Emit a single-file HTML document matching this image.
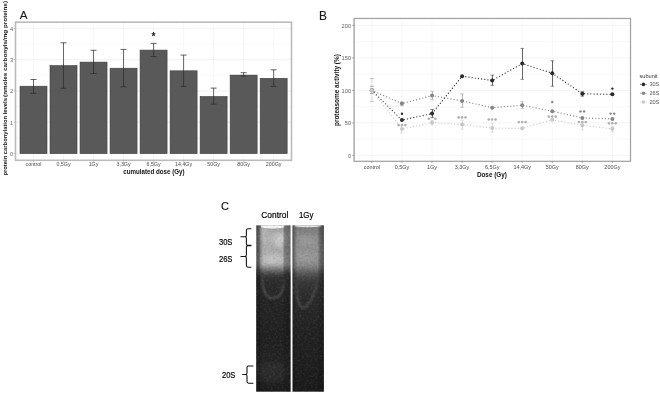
<!DOCTYPE html>
<html><head><meta charset="utf-8"><style>
html,body{margin:0;padding:0;background:#fff;}
body{width:660px;height:394px;overflow:hidden;}
svg{display:block;filter:grayscale(1) blur(0.3px);}
text{font-family:"Liberation Sans", sans-serif;}
</style></head><body>
<svg width="660" height="394" viewBox="0 0 660 394">
<defs>
<filter id="soft" x="-5%" y="-5%" width="110%" height="110%"><feGaussianBlur stdDeviation="0.35"/></filter>
</defs>
<rect width="660" height="394" fill="#fff"/>

<line x1="15.5" x2="291.5" y1="137.94" y2="137.94" stroke="#f3f3f3" stroke-width="0.5"/>
<line x1="15.5" x2="291.5" y1="106.60" y2="106.60" stroke="#f3f3f3" stroke-width="0.5"/>
<line x1="15.5" x2="291.5" y1="75.28" y2="75.28" stroke="#f3f3f3" stroke-width="0.5"/>
<line x1="15.5" x2="291.5" y1="43.94" y2="43.94" stroke="#f3f3f3" stroke-width="0.5"/>
<line x1="15.5" x2="291.5" y1="153.60" y2="153.60" stroke="#e9e9e9" stroke-width="0.6"/>
<line x1="15.5" x2="291.5" y1="122.27" y2="122.27" stroke="#e9e9e9" stroke-width="0.6"/>
<line x1="15.5" x2="291.5" y1="90.94" y2="90.94" stroke="#e9e9e9" stroke-width="0.6"/>
<line x1="15.5" x2="291.5" y1="59.61" y2="59.61" stroke="#e9e9e9" stroke-width="0.6"/>
<line x1="15.5" x2="291.5" y1="28.28" y2="28.28" stroke="#e9e9e9" stroke-width="0.6"/>
<line x1="33.50" x2="33.50" y1="22.2" y2="160.3" stroke="#efefef" stroke-width="0.5"/>
<line x1="63.52" x2="63.52" y1="22.2" y2="160.3" stroke="#efefef" stroke-width="0.5"/>
<line x1="93.54" x2="93.54" y1="22.2" y2="160.3" stroke="#efefef" stroke-width="0.5"/>
<line x1="123.56" x2="123.56" y1="22.2" y2="160.3" stroke="#efefef" stroke-width="0.5"/>
<line x1="153.58" x2="153.58" y1="22.2" y2="160.3" stroke="#efefef" stroke-width="0.5"/>
<line x1="183.60" x2="183.60" y1="22.2" y2="160.3" stroke="#efefef" stroke-width="0.5"/>
<line x1="213.62" x2="213.62" y1="22.2" y2="160.3" stroke="#efefef" stroke-width="0.5"/>
<line x1="243.64" x2="243.64" y1="22.2" y2="160.3" stroke="#efefef" stroke-width="0.5"/>
<line x1="273.66" x2="273.66" y1="22.2" y2="160.3" stroke="#efefef" stroke-width="0.5"/>
<rect x="20.00" y="86.2" width="27.0" height="67.40" fill="#595959" stroke="#3e3e3e" stroke-width="0.6"/>
<rect x="50.02" y="65.6" width="27.0" height="88.00" fill="#595959" stroke="#3e3e3e" stroke-width="0.6"/>
<rect x="80.04" y="62.1" width="27.0" height="91.50" fill="#595959" stroke="#3e3e3e" stroke-width="0.6"/>
<rect x="110.06" y="68.2" width="27.0" height="85.40" fill="#595959" stroke="#3e3e3e" stroke-width="0.6"/>
<rect x="140.08" y="50.1" width="27.0" height="103.50" fill="#595959" stroke="#3e3e3e" stroke-width="0.6"/>
<rect x="170.10" y="70.8" width="27.0" height="82.80" fill="#595959" stroke="#3e3e3e" stroke-width="0.6"/>
<rect x="200.12" y="96.5" width="27.0" height="57.10" fill="#595959" stroke="#3e3e3e" stroke-width="0.6"/>
<rect x="230.14" y="75.1" width="27.0" height="78.50" fill="#595959" stroke="#3e3e3e" stroke-width="0.6"/>
<rect x="260.16" y="78.3" width="27.0" height="75.30" fill="#595959" stroke="#3e3e3e" stroke-width="0.6"/>
<path d="M30.50 79.5H36.50M33.50 79.5V93.3M30.50 93.3H36.50" stroke="#2b2b2b" stroke-width="0.72" fill="none"/>
<path d="M60.52 42.8H66.52M63.52 42.8V88.3M60.52 88.3H66.52" stroke="#2b2b2b" stroke-width="0.72" fill="none"/>
<path d="M90.54 50.3H96.54M93.54 50.3V73.5M90.54 73.5H96.54" stroke="#2b2b2b" stroke-width="0.72" fill="none"/>
<path d="M120.56 49.4H126.56M123.56 49.4V86.8M120.56 86.8H126.56" stroke="#2b2b2b" stroke-width="0.72" fill="none"/>
<path d="M150.58 43.4H156.58M153.58 43.4V56.6M150.58 56.6H156.58" stroke="#2b2b2b" stroke-width="0.72" fill="none"/>
<path d="M180.60 55.1H186.60M183.60 55.1V86.4M180.60 86.4H186.60" stroke="#2b2b2b" stroke-width="0.72" fill="none"/>
<path d="M210.62 88.1H216.62M213.62 88.1V104.1M210.62 104.1H216.62" stroke="#2b2b2b" stroke-width="0.72" fill="none"/>
<path d="M240.64 72.7H246.64M243.64 72.7V76.0M240.64 76.0H246.64" stroke="#2b2b2b" stroke-width="0.72" fill="none"/>
<path d="M270.66 69.8H276.66M273.66 69.8V86.4M270.66 86.4H276.66" stroke="#2b2b2b" stroke-width="0.72" fill="none"/>
<text x="153.58" y="40.0" font-size="10.2" font-weight="bold" text-anchor="middle" fill="#1a1a1a">*</text>
<rect x="15.5" y="22.2" width="276.0" height="138.10000000000002" fill="none" stroke="#bbbbbb" stroke-width="1.6"/>
<line x1="13.7" x2="15.5" y1="153.60" y2="153.60" stroke="#b0b0b0" stroke-width="0.7"/>
<text x="13.1" y="156.10" font-size="5.7" text-anchor="end" fill="#666">0</text>
<line x1="13.7" x2="15.5" y1="122.27" y2="122.27" stroke="#b0b0b0" stroke-width="0.7"/>
<text x="13.1" y="124.77" font-size="5.7" text-anchor="end" fill="#666">1</text>
<line x1="13.7" x2="15.5" y1="90.94" y2="90.94" stroke="#b0b0b0" stroke-width="0.7"/>
<text x="13.1" y="93.44" font-size="5.7" text-anchor="end" fill="#666">2</text>
<line x1="13.7" x2="15.5" y1="59.61" y2="59.61" stroke="#b0b0b0" stroke-width="0.7"/>
<text x="13.1" y="62.11" font-size="5.7" text-anchor="end" fill="#666">3</text>
<line x1="13.7" x2="15.5" y1="28.28" y2="28.28" stroke="#b0b0b0" stroke-width="0.7"/>
<text x="13.1" y="30.78" font-size="5.7" text-anchor="end" fill="#666">4</text>
<line x1="33.50" x2="33.50" y1="160.3" y2="161.9" stroke="#b0b0b0" stroke-width="0.7"/>
<text x="33.50" y="166.0" font-size="5.3" text-anchor="middle" fill="#4a4a4a">control</text>
<line x1="63.52" x2="63.52" y1="160.3" y2="161.9" stroke="#b0b0b0" stroke-width="0.7"/>
<text x="63.52" y="166.0" font-size="5.3" text-anchor="middle" fill="#4a4a4a">0,5Gy</text>
<line x1="93.54" x2="93.54" y1="160.3" y2="161.9" stroke="#b0b0b0" stroke-width="0.7"/>
<text x="93.54" y="166.0" font-size="5.3" text-anchor="middle" fill="#4a4a4a">1Gy</text>
<line x1="123.56" x2="123.56" y1="160.3" y2="161.9" stroke="#b0b0b0" stroke-width="0.7"/>
<text x="123.56" y="166.0" font-size="5.3" text-anchor="middle" fill="#4a4a4a">3,3Gy</text>
<line x1="153.58" x2="153.58" y1="160.3" y2="161.9" stroke="#b0b0b0" stroke-width="0.7"/>
<text x="153.58" y="166.0" font-size="5.3" text-anchor="middle" fill="#4a4a4a">6,5Gy</text>
<line x1="183.60" x2="183.60" y1="160.3" y2="161.9" stroke="#b0b0b0" stroke-width="0.7"/>
<text x="183.60" y="166.0" font-size="5.3" text-anchor="middle" fill="#4a4a4a">14,4Gy</text>
<line x1="213.62" x2="213.62" y1="160.3" y2="161.9" stroke="#b0b0b0" stroke-width="0.7"/>
<text x="213.62" y="166.0" font-size="5.3" text-anchor="middle" fill="#4a4a4a">50Gy</text>
<line x1="243.64" x2="243.64" y1="160.3" y2="161.9" stroke="#b0b0b0" stroke-width="0.7"/>
<text x="243.64" y="166.0" font-size="5.3" text-anchor="middle" fill="#4a4a4a">80Gy</text>
<line x1="273.66" x2="273.66" y1="160.3" y2="161.9" stroke="#b0b0b0" stroke-width="0.7"/>
<text x="273.66" y="166.0" font-size="5.3" text-anchor="middle" fill="#4a4a4a">200Gy</text>
<text x="153.9" y="174.1" font-size="6.35" font-weight="bold" text-anchor="middle" fill="#111" textLength="61.4" lengthAdjust="spacingAndGlyphs">cumulated dose (Gy)</text>
<text transform="translate(6.6 175.6) rotate(-90)" x="0" y="0" font-size="6.2" font-weight="bold" fill="#111" textLength="77.6" lengthAdjust="spacingAndGlyphs">protein carbonylation levels</text>
<text transform="translate(6.6 96.9) rotate(-90)" x="0" y="0" font-size="6.2" font-weight="bold" fill="#111" textLength="95.9" lengthAdjust="spacingAndGlyphs">(nmoles carbonyls/mg proteins)</text>
<text x="19.7" y="19.4" font-size="11.7" fill="#1a1a1a" stroke="#1a1a1a" stroke-width="0.12">A</text>
<line x1="354.2" x2="630.5" y1="139.15" y2="139.15" stroke="#f3f3f3" stroke-width="0.5"/>
<line x1="354.2" x2="630.5" y1="106.65" y2="106.65" stroke="#f3f3f3" stroke-width="0.5"/>
<line x1="354.2" x2="630.5" y1="74.15" y2="74.15" stroke="#f3f3f3" stroke-width="0.5"/>
<line x1="354.2" x2="630.5" y1="41.65" y2="41.65" stroke="#f3f3f3" stroke-width="0.5"/>
<line x1="354.2" x2="630.5" y1="155.40" y2="155.40" stroke="#ebebeb" stroke-width="0.6"/>
<line x1="354.2" x2="630.5" y1="122.90" y2="122.90" stroke="#ebebeb" stroke-width="0.6"/>
<line x1="354.2" x2="630.5" y1="90.40" y2="90.40" stroke="#ebebeb" stroke-width="0.6"/>
<line x1="354.2" x2="630.5" y1="57.90" y2="57.90" stroke="#ebebeb" stroke-width="0.6"/>
<line x1="354.2" x2="630.5" y1="25.40" y2="25.40" stroke="#ebebeb" stroke-width="0.6"/>
<line x1="371.90" x2="371.90" y1="18.45" y2="161.3" stroke="#efefef" stroke-width="0.5"/>
<line x1="401.96" x2="401.96" y1="18.45" y2="161.3" stroke="#efefef" stroke-width="0.5"/>
<line x1="432.02" x2="432.02" y1="18.45" y2="161.3" stroke="#efefef" stroke-width="0.5"/>
<line x1="462.08" x2="462.08" y1="18.45" y2="161.3" stroke="#efefef" stroke-width="0.5"/>
<line x1="492.14" x2="492.14" y1="18.45" y2="161.3" stroke="#efefef" stroke-width="0.5"/>
<line x1="522.20" x2="522.20" y1="18.45" y2="161.3" stroke="#efefef" stroke-width="0.5"/>
<line x1="552.26" x2="552.26" y1="18.45" y2="161.3" stroke="#efefef" stroke-width="0.5"/>
<line x1="582.32" x2="582.32" y1="18.45" y2="161.3" stroke="#efefef" stroke-width="0.5"/>
<line x1="612.38" x2="612.38" y1="18.45" y2="161.3" stroke="#efefef" stroke-width="0.5"/>
<path d="M370.20 78.6H373.60M370.20 101.5H373.60" stroke="#999" stroke-width="0.7"/>
<path d="M370.20 81.3H373.60M370.20 98.6H373.60" stroke="#e0e0e0" stroke-width="0.6"/>
<path d="M370.20 86.3H373.60M370.20 93.5H373.60" stroke="#666" stroke-width="0.7"/>
<path d="M371.90 78.6V101.5" stroke="#d4d4d4" stroke-width="0.7"/>
<path d="M400.26 125.5H403.66M400.26 133.0H403.66" stroke="#d4d4d4" stroke-width="0.65" fill="none"/>
<path d="M401.50 125.5V133.0" stroke="#d4d4d4" stroke-width="0.8" fill="none"/>
<path d="M430.32 120.5H433.72M430.32 124.8H433.72" stroke="#d4d4d4" stroke-width="0.65" fill="none"/>
<path d="M432.50 120.5V124.8" stroke="#d4d4d4" stroke-width="0.8" fill="none"/>
<path d="M460.38 120.2H463.78M460.38 129.2H463.78" stroke="#d4d4d4" stroke-width="0.65" fill="none"/>
<path d="M462.50 120.2V129.2" stroke="#d4d4d4" stroke-width="0.8" fill="none"/>
<path d="M490.44 123.3H493.84M490.44 132.2H493.84" stroke="#d4d4d4" stroke-width="0.65" fill="none"/>
<path d="M492.50 123.3V132.2" stroke="#d4d4d4" stroke-width="0.8" fill="none"/>
<path d="M580.62 122.0H584.02M580.62 129.9H584.02" stroke="#d4d4d4" stroke-width="0.65" fill="none"/>
<path d="M582.50 122.0V129.9" stroke="#d4d4d4" stroke-width="0.8" fill="none"/>
<path d="M610.68 126.3H614.08M610.68 131.9H614.08" stroke="#d4d4d4" stroke-width="0.65" fill="none"/>
<path d="M612.50 126.3V131.9" stroke="#d4d4d4" stroke-width="0.8" fill="none"/>
<path d="M400.26 102.0H403.66M400.26 105.6H403.66" stroke="#a8a8a8" stroke-width="0.65" fill="none"/>
<path d="M401.50 102.0V105.6" stroke="#a8a8a8" stroke-width="0.8" fill="none"/>
<path d="M430.32 91.4H433.72M430.32 99.7H433.72" stroke="#a8a8a8" stroke-width="0.65" fill="none"/>
<path d="M432.50 91.4V99.7" stroke="#a8a8a8" stroke-width="0.8" fill="none"/>
<path d="M460.38 93.9H463.78M460.38 107.3H463.78" stroke="#a8a8a8" stroke-width="0.65" fill="none"/>
<path d="M462.50 93.9V107.3" stroke="#a8a8a8" stroke-width="0.8" fill="none"/>
<path d="M520.50 101.7H523.90M520.50 108.4H523.90" stroke="#a8a8a8" stroke-width="0.65" fill="none"/>
<path d="M522.50 101.7V108.4" stroke="#a8a8a8" stroke-width="0.8" fill="none"/>
<path d="M430.32 109.4H433.72M430.32 117.6H433.72" stroke="#4a4a4a" stroke-width="0.65" fill="none"/>
<path d="M432.50 109.4V117.6" stroke="#4a4a4a" stroke-width="0.85" fill="none"/>
<path d="M490.44 75.2H493.84M490.44 85.3H493.84" stroke="#4a4a4a" stroke-width="0.65" fill="none"/>
<path d="M492.50 75.2V85.3" stroke="#4a4a4a" stroke-width="0.85" fill="none"/>
<path d="M520.50 48.4H523.90M520.50 79.3H523.90" stroke="#4a4a4a" stroke-width="0.65" fill="none"/>
<path d="M522.50 48.4V79.3" stroke="#4a4a4a" stroke-width="0.85" fill="none"/>
<path d="M550.56 60.8H553.96M550.56 86.2H553.96" stroke="#4a4a4a" stroke-width="0.65" fill="none"/>
<path d="M552.50 60.8V86.2" stroke="#4a4a4a" stroke-width="0.85" fill="none"/>
<path d="M580.62 91.7H584.02M580.62 96.2H584.02" stroke="#4a4a4a" stroke-width="0.65" fill="none"/>
<path d="M582.50 91.7V96.2" stroke="#4a4a4a" stroke-width="0.85" fill="none"/>
<polyline points="371.90,90.3 401.96,129.0 432.02,122.5 462.08,124.5 492.14,128.1 522.20,128.3 552.26,119.8 582.32,125.2 612.38,128.8" fill="none" stroke="#cdcdcd" stroke-width="1.35" stroke-dasharray="0 3.2" stroke-linecap="round"/>
<polyline points="371.90,90.3 401.96,103.6 432.02,95.6 462.08,100.9 492.14,107.7 522.20,105.2 552.26,111.2 582.32,117.9 612.38,118.9" fill="none" stroke="#8c8c8c" stroke-width="1.35" stroke-dasharray="0 3.2" stroke-linecap="round"/>
<polyline points="371.90,90.3 401.96,120.1 432.02,113.6 462.08,76.2 492.14,80.5 522.20,63.6 552.26,73.2 582.32,93.7 612.38,94.3" fill="none" stroke="#3a3a3a" stroke-width="1.35" stroke-dasharray="0 3.2" stroke-linecap="round"/>
<circle cx="371.90" cy="90.3" r="2.0" fill="#2a2a2a"/>
<circle cx="401.96" cy="120.1" r="2.0" fill="#2a2a2a"/>
<circle cx="432.02" cy="113.6" r="2.0" fill="#2a2a2a"/>
<circle cx="462.08" cy="76.2" r="2.0" fill="#2a2a2a"/>
<circle cx="492.14" cy="80.5" r="2.0" fill="#2a2a2a"/>
<circle cx="522.20" cy="63.6" r="2.0" fill="#2a2a2a"/>
<circle cx="552.26" cy="73.2" r="2.0" fill="#2a2a2a"/>
<circle cx="582.32" cy="93.7" r="2.0" fill="#2a2a2a"/>
<circle cx="612.38" cy="94.3" r="2.0" fill="#2a2a2a"/>
<circle cx="371.90" cy="90.3" r="2.0" fill="#858585"/>
<circle cx="401.96" cy="103.6" r="2.0" fill="#858585"/>
<circle cx="432.02" cy="95.6" r="2.0" fill="#858585"/>
<circle cx="462.08" cy="100.9" r="2.0" fill="#858585"/>
<circle cx="492.14" cy="107.7" r="2.0" fill="#858585"/>
<circle cx="522.20" cy="105.2" r="2.0" fill="#858585"/>
<circle cx="552.26" cy="111.2" r="2.0" fill="#858585"/>
<circle cx="582.32" cy="117.9" r="2.0" fill="#858585"/>
<circle cx="612.38" cy="118.9" r="2.0" fill="#858585"/>
<circle cx="371.90" cy="90.3" r="2.0" fill="#c8c8c8"/>
<circle cx="401.96" cy="129.0" r="2.0" fill="#c8c8c8"/>
<circle cx="432.02" cy="122.5" r="2.0" fill="#c8c8c8"/>
<circle cx="462.08" cy="124.5" r="2.0" fill="#c8c8c8"/>
<circle cx="492.14" cy="128.1" r="2.0" fill="#c8c8c8"/>
<circle cx="522.20" cy="128.3" r="2.0" fill="#c8c8c8"/>
<circle cx="552.26" cy="119.8" r="2.0" fill="#c8c8c8"/>
<circle cx="582.32" cy="125.2" r="2.0" fill="#c8c8c8"/>
<circle cx="612.38" cy="128.8" r="2.0" fill="#c8c8c8"/>
<circle cx="401.96" cy="113.7" r="1.2" fill="#2a2a2a"/>
<circle cx="612.38" cy="88.6" r="1.2" fill="#2a2a2a"/>
<circle cx="552.26" cy="102.0" r="1.2" fill="#858585"/>
<circle cx="580.52" cy="111.4" r="1.2" fill="#858585"/>
<circle cx="610.58" cy="113.6" r="1.2" fill="#858585"/>
<circle cx="584.12" cy="111.4" r="1.2" fill="#858585"/>
<circle cx="614.18" cy="113.6" r="1.2" fill="#858585"/>
<circle cx="398.56" cy="125.1" r="1.3" fill="#b0b0b0"/>
<circle cx="401.96" cy="125.1" r="1.3" fill="#b0b0b0"/>
<circle cx="405.36" cy="125.1" r="1.3" fill="#b0b0b0"/>
<circle cx="428.72" cy="118.7" r="1.3" fill="#b0b0b0"/>
<circle cx="435.32" cy="118.7" r="1.3" fill="#b0b0b0"/>
<circle cx="458.68" cy="117.4" r="1.3" fill="#b0b0b0"/>
<circle cx="462.08" cy="117.4" r="1.3" fill="#b0b0b0"/>
<circle cx="465.48" cy="117.4" r="1.3" fill="#b0b0b0"/>
<circle cx="488.74" cy="119.5" r="1.3" fill="#b0b0b0"/>
<circle cx="492.14" cy="119.5" r="1.3" fill="#b0b0b0"/>
<circle cx="495.54" cy="119.5" r="1.3" fill="#b0b0b0"/>
<circle cx="518.80" cy="122.1" r="1.3" fill="#b0b0b0"/>
<circle cx="522.20" cy="122.1" r="1.3" fill="#b0b0b0"/>
<circle cx="525.60" cy="122.1" r="1.3" fill="#b0b0b0"/>
<circle cx="548.86" cy="116.6" r="1.3" fill="#b0b0b0"/>
<circle cx="552.26" cy="116.6" r="1.3" fill="#b0b0b0"/>
<circle cx="555.66" cy="116.6" r="1.3" fill="#b0b0b0"/>
<circle cx="578.92" cy="122.1" r="1.3" fill="#b0b0b0"/>
<circle cx="582.32" cy="122.1" r="1.3" fill="#b0b0b0"/>
<circle cx="585.72" cy="122.1" r="1.3" fill="#b0b0b0"/>
<circle cx="608.98" cy="123.2" r="1.3" fill="#b0b0b0"/>
<circle cx="612.38" cy="123.2" r="1.3" fill="#b0b0b0"/>
<circle cx="615.78" cy="123.2" r="1.3" fill="#b0b0b0"/>
<rect x="354.2" y="18.45" width="276.30" height="142.85" fill="none" stroke="#a2a2a2" stroke-width="1.25"/>
<line x1="354.2" x2="354.2" y1="19.05" y2="160.70" stroke="#b8b8b8" stroke-width="1.25"/>
<line x1="352.2" x2="354.2" y1="155.40" y2="155.40" stroke="#777" stroke-width="0.6"/>
<text x="351.1" y="157.60" font-size="5.7" text-anchor="end" fill="#606060">0</text>
<line x1="352.2" x2="354.2" y1="122.90" y2="122.90" stroke="#777" stroke-width="0.6"/>
<text x="351.1" y="125.10" font-size="5.7" text-anchor="end" fill="#606060">50</text>
<line x1="352.2" x2="354.2" y1="90.40" y2="90.40" stroke="#777" stroke-width="0.6"/>
<text x="351.1" y="92.60" font-size="5.7" text-anchor="end" fill="#606060">100</text>
<line x1="352.2" x2="354.2" y1="57.90" y2="57.90" stroke="#777" stroke-width="0.6"/>
<text x="351.1" y="60.10" font-size="5.7" text-anchor="end" fill="#606060">150</text>
<line x1="352.2" x2="354.2" y1="25.40" y2="25.40" stroke="#777" stroke-width="0.6"/>
<text x="351.1" y="27.60" font-size="5.7" text-anchor="end" fill="#606060">200</text>
<line x1="371.90" x2="371.90" y1="161.3" y2="163.0" stroke="#777" stroke-width="0.6"/>
<text x="371.90" y="169.2" font-size="5.45" text-anchor="middle" fill="#4a4a4a">control</text>
<line x1="401.96" x2="401.96" y1="161.3" y2="163.0" stroke="#777" stroke-width="0.6"/>
<text x="401.96" y="169.2" font-size="5.45" text-anchor="middle" fill="#4a4a4a">0,5Gy</text>
<line x1="432.02" x2="432.02" y1="161.3" y2="163.0" stroke="#777" stroke-width="0.6"/>
<text x="432.02" y="169.2" font-size="5.45" text-anchor="middle" fill="#4a4a4a">1Gy</text>
<line x1="462.08" x2="462.08" y1="161.3" y2="163.0" stroke="#777" stroke-width="0.6"/>
<text x="462.08" y="169.2" font-size="5.45" text-anchor="middle" fill="#4a4a4a">3,3Gy</text>
<line x1="492.14" x2="492.14" y1="161.3" y2="163.0" stroke="#777" stroke-width="0.6"/>
<text x="492.14" y="169.2" font-size="5.45" text-anchor="middle" fill="#4a4a4a">6,5Gy</text>
<line x1="522.20" x2="522.20" y1="161.3" y2="163.0" stroke="#777" stroke-width="0.6"/>
<text x="522.20" y="169.2" font-size="5.45" text-anchor="middle" fill="#4a4a4a">14,4Gy</text>
<line x1="552.26" x2="552.26" y1="161.3" y2="163.0" stroke="#777" stroke-width="0.6"/>
<text x="552.26" y="169.2" font-size="5.45" text-anchor="middle" fill="#4a4a4a">50Gy</text>
<line x1="582.32" x2="582.32" y1="161.3" y2="163.0" stroke="#777" stroke-width="0.6"/>
<text x="582.32" y="169.2" font-size="5.45" text-anchor="middle" fill="#4a4a4a">80Gy</text>
<line x1="612.38" x2="612.38" y1="161.3" y2="163.0" stroke="#777" stroke-width="0.6"/>
<text x="612.38" y="169.2" font-size="5.45" text-anchor="middle" fill="#4a4a4a">200Gy</text>
<text x="491.9" y="177.3" font-size="6.5" font-weight="bold" text-anchor="middle" fill="#111" textLength="30" lengthAdjust="spacingAndGlyphs">Dose (Gy)</text>
<text transform="translate(339.2 90.1) rotate(-90)" x="0" y="0" font-size="6.5" font-weight="bold" text-anchor="middle" fill="#111" textLength="71.8" lengthAdjust="spacingAndGlyphs">proteasome activity (%)</text>
<text x="319.1" y="19.6" font-size="11.9" fill="#1a1a1a" stroke="#1a1a1a" stroke-width="0.12">B</text>
<text x="639.5" y="78.1" font-size="5.6" fill="#333">subunit</text>
<line x1="640.2" x2="646.6" y1="84.4" y2="84.4" stroke="#2a2a2a" stroke-width="0.9" stroke-dasharray="0.9 0.9"/>
<circle cx="643.4" cy="84.4" r="1.8" fill="#2a2a2a"/>
<text x="649.4" y="86.40" font-size="5.6" fill="#555">30S</text>
<line x1="640.2" x2="646.6" y1="93.3" y2="93.3" stroke="#858585" stroke-width="0.9" stroke-dasharray="0.9 0.9"/>
<circle cx="643.4" cy="93.3" r="1.8" fill="#858585"/>
<text x="649.4" y="95.30" font-size="5.6" fill="#555">26S</text>
<line x1="640.2" x2="646.6" y1="102.0" y2="102.0" stroke="#c8c8c8" stroke-width="0.9" stroke-dasharray="0.9 0.9"/>
<circle cx="643.4" cy="102.0" r="1.8" fill="#c8c8c8"/>
<text x="649.4" y="104.00" font-size="5.6" fill="#555">20S</text>
<text x="221.0" y="210.3" font-size="11.0" fill="#111" stroke="#111" stroke-width="0.15">C</text>
<text x="261.3" y="218.2" font-size="8.4" fill="#000" stroke="#000" stroke-width="0.18" textLength="27" lengthAdjust="spacingAndGlyphs">Control</text>
<text x="299.0" y="218.2" font-size="8.4" fill="#000" stroke="#000" stroke-width="0.18" textLength="14.4" lengthAdjust="spacingAndGlyphs">1Gy</text>
<text x="219.0" y="245.1" font-size="8.4" fill="#000" stroke="#000" stroke-width="0.18" textLength="13.4" lengthAdjust="spacingAndGlyphs">30S</text>
<text x="219.0" y="261.9" font-size="8.4" fill="#000" stroke="#000" stroke-width="0.18" textLength="13.4" lengthAdjust="spacingAndGlyphs">26S</text>
<text x="222.0" y="377.7" font-size="8.4" fill="#000" stroke="#000" stroke-width="0.18" textLength="13.4" lengthAdjust="spacingAndGlyphs">20S</text>
<path d="M251.3 228.7H248.0Q246.4 228.7 246.4 230.29999999999998V235.20000000000002Q246.4 236.8 244.8 236.8H240.5M244.8 236.8Q246.4 236.8 246.4 238.4V243.8Q246.4 245.4 248.0 245.4H251.3" fill="none" stroke="#151515" stroke-width="1.1"/>
<path d="M251.3 245.6H248.0Q246.4 245.6 246.4 247.2V254.9Q246.4 256.5 244.8 256.5H240.5M244.8 256.5Q246.4 256.5 246.4 258.1V265.59999999999997Q246.4 267.2 248.0 267.2H251.3" fill="none" stroke="#151515" stroke-width="1.1"/>
<path d="M253.4 366.0H248.6Q247.0 366.0 247.0 367.6V372.9Q247.0 374.5 245.4 374.5H242.2M245.4 374.5Q247.0 374.5 247.0 376.1V381.59999999999997Q247.0 383.2 248.6 383.2H253.4" fill="none" stroke="#151515" stroke-width="1.1"/>
<defs><linearGradient id="l1" x1="0" y1="0" x2="0" y2="1"><stop offset="0.0000" stop-color="#9a9a9a"/><stop offset="0.0192" stop-color="#a2a2a2"/><stop offset="0.0463" stop-color="#acacac"/><stop offset="0.0763" stop-color="#b4b4b4"/><stop offset="0.1064" stop-color="#b0b0b0"/><stop offset="0.1364" stop-color="#aaaaaa"/><stop offset="0.1665" stop-color="#aeaeae"/><stop offset="0.1965" stop-color="#b6b6b6"/><stop offset="0.2266" stop-color="#b4b4b4"/><stop offset="0.2446" stop-color="#9c9c9c"/><stop offset="0.2656" stop-color="#767676"/><stop offset="0.2867" stop-color="#525252"/><stop offset="0.3167" stop-color="#3a3a3a"/><stop offset="0.3588" stop-color="#2e2e2e"/><stop offset="0.4489" stop-color="#262626"/><stop offset="0.6893" stop-color="#212121"/><stop offset="0.8576" stop-color="#262626"/><stop offset="0.9297" stop-color="#232323"/><stop offset="1.0000" stop-color="#1b1b1b"/></linearGradient><linearGradient id="l2" x1="0" y1="0" x2="0" y2="1"><stop offset="0.0000" stop-color="#8a8a8a"/><stop offset="0.0192" stop-color="#7e7e7e"/><stop offset="0.0523" stop-color="#868686"/><stop offset="0.1004" stop-color="#8e8e8e"/><stop offset="0.1484" stop-color="#929292"/><stop offset="0.1965" stop-color="#929292"/><stop offset="0.2326" stop-color="#8c8c8c"/><stop offset="0.2566" stop-color="#7a7a7a"/><stop offset="0.2806" stop-color="#606060"/><stop offset="0.3107" stop-color="#464646"/><stop offset="0.3528" stop-color="#353535"/><stop offset="0.4489" stop-color="#2a2a2a"/><stop offset="0.6292" stop-color="#232323"/><stop offset="0.8095" stop-color="#202020"/><stop offset="1.0000" stop-color="#1b1b1b"/></linearGradient><linearGradient id="e1" x1="0" y1="0" x2="1" y2="0"><stop offset="0.0000" stop-color="#000" stop-opacity="0.55"/><stop offset="0.0809" stop-color="#000" stop-opacity="0.48"/><stop offset="0.1387" stop-color="#000" stop-opacity="0.15"/><stop offset="0.2110" stop-color="#000" stop-opacity="0.0"/><stop offset="0.7688" stop-color="#000" stop-opacity="0.0"/><stop offset="0.8208" stop-color="#000" stop-opacity="0.3"/><stop offset="0.9480" stop-color="#000" stop-opacity="0.36"/><stop offset="1.0000" stop-color="#000" stop-opacity="0.3"/></linearGradient><linearGradient id="e2" x1="0" y1="0" x2="1" y2="0"><stop offset="0.0000" stop-color="#000" stop-opacity="0.8"/><stop offset="0.0222" stop-color="#000" stop-opacity="0.6"/><stop offset="0.0411" stop-color="#000" stop-opacity="0.3"/><stop offset="0.0791" stop-color="#000" stop-opacity="0.2"/><stop offset="0.1487" stop-color="#000" stop-opacity="0.0"/><stop offset="0.7975" stop-color="#000" stop-opacity="0.0"/><stop offset="0.8766" stop-color="#000" stop-opacity="0.28"/><stop offset="0.9715" stop-color="#000" stop-opacity="0.42"/><stop offset="1.0000" stop-color="#000" stop-opacity="0.5"/></linearGradient><filter id="b1" x="-50%" y="-50%" width="200%" height="200%"><feGaussianBlur stdDeviation="0.9"/></filter><filter id="b2" x="-50%" y="-50%" width="200%" height="200%"><feGaussianBlur stdDeviation="2.2"/></filter><filter id="b3" x="-50%" y="-50%" width="200%" height="200%"><feGaussianBlur stdDeviation="0.6"/></filter><filter id="b4" x="-50%" y="-50%" width="200%" height="200%"><feGaussianBlur stdDeviation="0.85"/></filter><linearGradient id="af1" gradientUnits="userSpaceOnUse" x1="0" y1="270" x2="0" y2="298"><stop offset="0" stop-color="#404040" stop-opacity="0"/><stop offset="0.3" stop-color="#4a4a4a"/><stop offset="1" stop-color="#5c5c5c"/></linearGradient><linearGradient id="af2" gradientUnits="userSpaceOnUse" x1="0" y1="272" x2="0" y2="307"><stop offset="0" stop-color="#3c3c3c" stop-opacity="0"/><stop offset="0.35" stop-color="#464646"/><stop offset="1" stop-color="#585858"/></linearGradient><linearGradient id="mk" gradientUnits="userSpaceOnUse" x1="0" y1="225.3" x2="0" y2="391.7"><stop offset="0" stop-color="#fff"/><stop offset="0.30" stop-color="#fff"/><stop offset="0.40" stop-color="#666"/><stop offset="1" stop-color="#555"/></linearGradient><mask id="emask" maskUnits="userSpaceOnUse" x="250" y="220" width="80" height="175"><rect x="250" y="220" width="80" height="175" fill="url(#mk)"/></mask><filter id="nzw" x="0" y="0" width="1" height="1"><feTurbulence type="fractalNoise" baseFrequency="0.45" numOctaves="2" seed="7"/><feColorMatrix type="matrix" values="0 0 0 0 1 0 0 0 0 1 0 0 0 0 1 1.6 0 0 0 -0.8"/></filter><filter id="nzb" x="0" y="0" width="1" height="1"><feTurbulence type="fractalNoise" baseFrequency="0.45" numOctaves="2" seed="7"/><feColorMatrix type="matrix" values="0 0 0 0 0 0 0 0 0 0 0 0 0 0 0 -1.6 0 0 0 0.8"/></filter><clipPath id="c1"><rect x="256.2" y="225.3" width="34.6" height="166.4"/></clipPath><clipPath id="c2"><rect x="292.3" y="225.3" width="31.6" height="166.4"/></clipPath></defs>
<rect x="256.2" y="225.3" width="34.60" height="166.40" fill="url(#l1)"/>
<rect x="292.3" y="225.3" width="31.60" height="166.40" fill="url(#l2)"/>
<g clip-path="url(#c1)">
<ellipse cx="279.5" cy="240" rx="4.5" ry="7" fill="#dadada" opacity="0.6" filter="url(#b2)"/>
<ellipse cx="273" cy="259" rx="9" ry="4.5" fill="#cccccc" opacity="0.5" filter="url(#b2)"/>
<ellipse cx="263" cy="231" rx="2.5" ry="4" fill="#d8d8d8" opacity="0.5" filter="url(#b2)"/>
<ellipse cx="272" cy="372" rx="15" ry="11" fill="#353535" opacity="0.45" filter="url(#b2)"/>
<path d="M262 276 C262.3 290 266 298 272.5 298.2 C279.5 298.4 285 290 285.7 276" fill="#2c2c2c" opacity="0.6" filter="url(#b2)"/>
<path d="M261.3 270 C261.6 288 265.5 298 272.5 298.2 C280 298.4 285.2 290 285.7 272" fill="none" stroke="url(#af1)" stroke-width="1.6" filter="url(#b4)"/>
<path d="M261 225.3 H284.5 V227.6 Q272.7 229.4 261 227.6Z" fill="#f4f4f4" filter="url(#b3)"/>
<rect x="256.2" y="225.3" width="34.60" height="166.40" fill="url(#e1)" mask="url(#emask)"/>
</g>
<g clip-path="url(#c2)">
<path d="M295.4 272 C296 296 299 307.5 302.5 307.6 C308 307.7 316 296 318 273" fill="none" stroke="url(#af2)" stroke-width="1.6" filter="url(#b4)"/>
<ellipse cx="307" cy="240" rx="9" ry="4.5" fill="#a8a8a8" opacity="0.45" filter="url(#b2)"/>
<ellipse cx="306" cy="257" rx="9" ry="5" fill="#a4a4a4" opacity="0.45" filter="url(#b2)"/>
<path d="M295 225.3 H321 V226.6 Q308 227.8 295 226.6Z" fill="#e6e6e6" filter="url(#b3)"/>
<rect x="292.3" y="225.3" width="31.60" height="166.40" fill="url(#e2)" mask="url(#emask)"/>
</g>
<rect x="256.2" y="225.3" width="67.70" height="166.40" filter="url(#nzw)" opacity="0.12"/>
<rect x="256.2" y="225.3" width="67.70" height="166.40" filter="url(#nzb)" opacity="0.15"/>
<rect x="290.8" y="225.3" width="1.50" height="166.40" fill="#fff"/>
</svg></body></html>
